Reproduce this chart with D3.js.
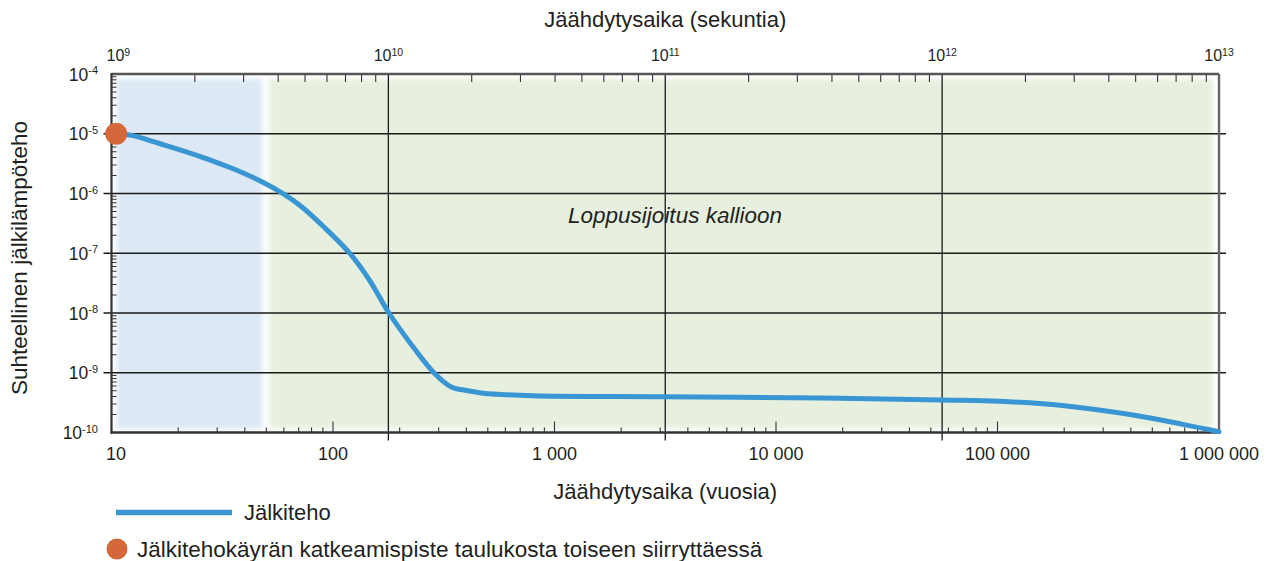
<!DOCTYPE html>
<html>
<head>
<meta charset="utf-8">
<script src="https://cdn.jsdelivr.net/npm/d3@7/dist/d3.min.js"></script>
<style>
  html, body { margin: 0; padding: 0; background: #fff; }
  svg { display: block; }
  text { font-family: "Liberation Sans", Arial, sans-serif; fill: #231f20; }
</style>
</head>
<body>
<svg id="chart" width="1273" height="561"></svg>
<script>
// Decay heat curve: cooling time in years vs. relative residual power
const years = [10.5, 12.5, 16.6, 25, 34.3, 47, 60, 71, 92, 119, 147, 178, 223, 284, 344, 400, 475, 800, 3090, 15800, 56000, 102600, 205000, 409000, 688000, 1000000];
const power = [1.0e-5, 9.3e-6, 6.8e-6, 4.2e-6, 2.72e-6, 1.62e-6, 9.8e-7, 6.3e-7, 2.65e-7, 1.0e-7, 3.43e-8, 1.03e-8, 3.15e-9, 1.02e-9, 5.7e-10, 5.05e-10, 4.54e-10, 4.13e-10, 3.98e-10, 3.79e-10, 3.5e-10, 3.33e-10, 2.78e-10, 1.96e-10, 1.37e-10, 1.03e-10];

// Break point where the curve switches from one table to another
const breakYears = [10.5];
const breakPower = [1.0e-5];

// Time periods shaded behind the curve (years)
const periodStart = [10, 50];
const periodEnd = [50, 1000000];
const periodColor = ["#dce8f4", "#e7f0df"];

// Axis ticks
const yearTicks = [10, 100, 1000, 10000, 100000, 1000000];
const yearTickLabels = ["10", "100", "1 000", "10 000", "100 000", "1 000 000"];
const secondExponents = [9, 10, 11, 12, 13];
const powerExponents = [-4, -5, -6, -7, -8, -9, -10];

const svg = d3.select("#chart");
const plotLeft = 111.5, plotRight = 1219, plotTop = 74, plotBottom = 432.5;

const x = d3.scaleLog().domain([10, 1e6]).range([plotLeft, plotRight]);
const xSec = d3.scaleLog().domain([1e9, 1e13]).range([plotLeft, plotRight]);
const y = d3.scaleLog().domain([1e-10, 1e-4]).range([plotBottom, plotTop]);

const isDecade = v => Math.abs(Math.log10(v) - Math.round(Math.log10(v))) < 1e-6;

// soft-edged background bands
const defs = svg.append("defs");
defs.append("filter").attr("id", "soft").attr("x", "-10%").attr("y", "-10%").attr("width", "120%").attr("height", "120%")
  .append("feGaussianBlur").attr("stdDeviation", 2.6);

svg.append("g").attr("filter", "url(#soft)")
  .selectAll("rect").data(periodStart).join("rect")
  .attr("x", (d, i) => x(d) + (i === 0 ? 5 : 3))
  .attr("width", (d, i) => x(periodEnd[i]) - x(d) - 9)
  .attr("y", plotTop + 5)
  .attr("height", plotBottom - plotTop - 9)
  .attr("fill", (d, i) => periodColor[i]);

// horizontal grid lines at each power of ten
svg.append("g").selectAll("line").data(powerExponents.slice(1, -1)).join("line")
  .attr("x1", plotLeft - 8).attr("x2", plotRight + 7)
  .attr("y1", d => y(Math.pow(10, d))).attr("y2", d => y(Math.pow(10, d)))
  .attr("stroke", "#1a1a1a").attr("stroke-width", 1.3);

// vertical grid lines at the inner decades of seconds
svg.append("g").selectAll("line").data(secondExponents.slice(1, -1)).join("line")
  .attr("x1", d => xSec(Math.pow(10, d))).attr("x2", d => xSec(Math.pow(10, d)))
  .attr("y1", plotTop).attr("y2", plotBottom + 8)
  .attr("stroke", "#1a1a1a").attr("stroke-width", 1.3);

// minor ticks on the left edge
const yMinor = y.ticks().filter(v => !isDecade(v));
svg.append("g").selectAll("line").data(yMinor).join("line")
  .attr("x1", plotLeft).attr("x2", plotLeft + 5)
  .attr("y1", d => y(d)).attr("y2", d => y(d))
  .attr("stroke", "#333").attr("stroke-width", 1);

// ticks along the bottom (years)
svg.append("g").selectAll("line").data(x.ticks()).join("line")
  .attr("x1", d => x(d)).attr("x2", d => x(d))
  .attr("y1", plotBottom).attr("y2", d => plotBottom - (isDecade(d) ? 11 : 5))
  .attr("stroke", "#333").attr("stroke-width", 1.1);

// ticks along the top (seconds)
svg.append("g").selectAll("line").data(xSec.ticks().filter(v => !isDecade(v))).join("line")
  .attr("x1", d => xSec(d)).attr("x2", d => xSec(d))
  .attr("y1", plotTop).attr("y2", plotTop + 8)
  .attr("stroke", "#333").attr("stroke-width", 1.1);

// frame
svg.append("line").attr("x1", plotLeft).attr("x2", plotRight).attr("y1", plotTop).attr("y2", plotTop)
  .attr("stroke", "#555").attr("stroke-width", 2.4);
svg.append("line").attr("x1", plotRight).attr("x2", plotRight).attr("y1", plotTop).attr("y2", plotBottom)
  .attr("stroke", "#666").attr("stroke-width", 2.4);
svg.append("line").attr("x1", plotLeft).attr("x2", plotLeft).attr("y1", plotTop - 1).attr("y2", plotBottom + 1)
  .attr("stroke", "#333").attr("stroke-width", 2.2);
svg.append("line").attr("x1", plotLeft - 1).attr("x2", plotRight + 1).attr("y1", plotBottom).attr("y2", plotBottom)
  .attr("stroke", "#333").attr("stroke-width", 2.4);

// keep edge labels from running past the frame corner
function clampStart(sel, minStart) {
  sel.each(function () {
    const w = this.getComputedTextLength();
    const cx = +this.getAttribute("x");
    if (cx - w / 2 < minStart) this.setAttribute("x", minStart + w / 2);
  });
}

// power-of-ten labels: base plus superscript exponent
function powerLabel(sel, baseSize, expSize, raise) {
  sel.append("tspan").attr("font-size", baseSize).text("10");
  sel.append("tspan").attr("font-size", expSize).attr("dy", -raise).text(d => d);
}

// y-axis labels
svg.append("g").selectAll("text").data(powerExponents).join("text")
  .attr("x", 98).attr("y", d => y(Math.pow(10, d)) + 6.5)
  .attr("text-anchor", "end")
  .call(powerLabel, 17.5, 11, 6.5);

// top labels (seconds)
const topLabels = svg.append("g").selectAll("text").data(secondExponents).join("text")
  .attr("x", d => xSec(Math.pow(10, d))).attr("y", 61)
  .attr("text-anchor", "middle")
  .call(powerLabel, 16, 10.5, 5.5);
clampStart(topLabels, plotLeft - 5);

// bottom labels (years)
const bottomLabels = svg.append("g").selectAll("text").data(yearTicks).join("text")
  .attr("x", d => x(d)).attr("y", 460)
  .attr("text-anchor", "middle")
  .attr("font-size", 18)
  .text((d, i) => yearTickLabels[i]);
clampStart(bottomLabels, plotLeft - 5.5);

// axis titles
svg.append("text").attr("x", (plotLeft + plotRight) / 2).attr("y", 27)
  .attr("text-anchor", "middle").attr("font-size", 22)
  .text("Jäähdytysaika (sekuntia)");
svg.append("text").attr("x", (plotLeft + plotRight) / 2).attr("y", 499)
  .attr("text-anchor", "middle").attr("font-size", 22)
  .text("Jäähdytysaika (vuosia)");
svg.append("text")
  .attr("transform", "translate(27,258) rotate(-90)")
  .attr("text-anchor", "middle").attr("font-size", 22.5)
  .text("Suhteellinen jälkilämpöteho");

// period annotation
svg.append("text").attr("x", 675).attr("y", 223)
  .attr("text-anchor", "middle").attr("font-size", 22.5).attr("font-style", "italic")
  .text("Loppusijoitus kallioon");

// decay heat curve
const line = d3.line()
  .x((d, i) => x(years[i]))
  .y((d, i) => y(power[i]))
  .curve(d3.curveCatmullRom.alpha(0.5));
svg.append("path").datum(years).attr("d", line)
  .attr("fill", "none").attr("stroke", "#3a96d2").attr("stroke-width", 5)
  .attr("stroke-linecap", "round");

// break point marker
svg.append("g").selectAll("circle").data(breakYears).join("circle")
  .attr("cx", d => x(d)).attr("cy", (d, i) => y(breakPower[i]))
  .attr("r", 11).attr("fill", "#d4683a");

// legend
svg.append("line").attr("x1", 116).attr("x2", 232).attr("y1", 512.5).attr("y2", 512.5)
  .attr("stroke", "#3a96d2").attr("stroke-width", 5.5);
svg.append("text").attr("x", 244).attr("y", 520).attr("font-size", 22).text("Jälkiteho");
svg.append("circle").attr("cx", 117).attr("cy", 549).attr("r", 10.5).attr("fill", "#d4683a");
svg.append("text").attr("x", 137).attr("y", 556.5).attr("font-size", 22.5)
  .text("Jälkitehokäyrän katkeamispiste taulukosta toiseen siirryttäessä");
</script>
</body>
</html>
